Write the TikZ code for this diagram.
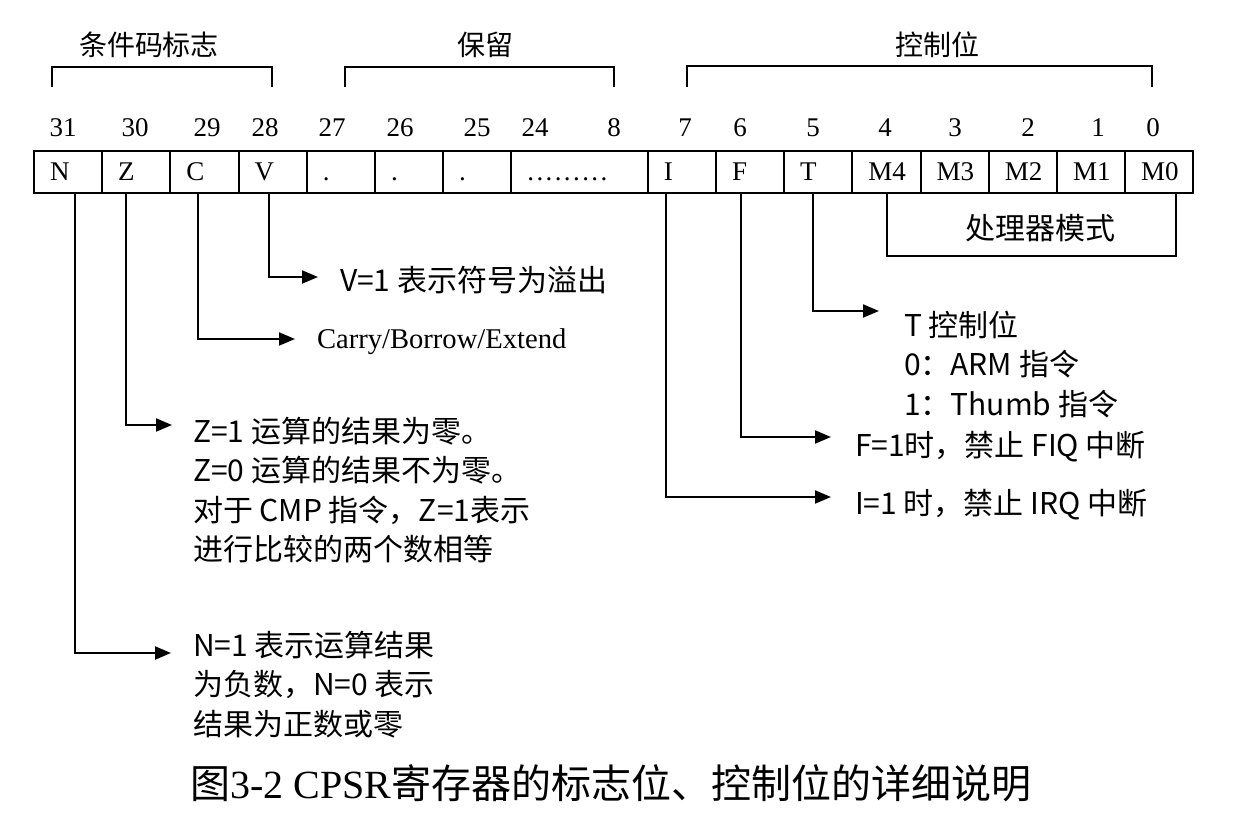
\documentclass[tikz,border=0pt]{standalone}
\usepackage{fontspec}
\setmainfont{Liberation Serif}
\newfontfamily\cjk{Noto Sans CJK SC}
\usetikzlibrary{positioning,arrows.meta}

\begin{document}
\begin{tikzpicture}[x=0.5pt, y=-0.5pt, line width=1pt, >={Triangle[length=8pt,width=6.5pt]},
    bitcell/.style={draw, outer sep=0pt, minimum height=21.15pt, minimum width=34.1pt, text width=18.1pt, text height=9pt, text depth=0pt, inner xsep=8pt, inner ysep=0pt, align=left, font=\fontsize{13.5pt}{16pt}\selectfont},
    widecell/.style={bitcell, minimum width=68.2pt, text width=52.2pt},
    bitnum/.style={inner sep=0pt, font=\fontsize{13.5pt}{16pt}\selectfont},
    group/.style={inner sep=0pt, font=\cjk\fontsize{14pt}{17pt}\selectfont},
    desc/.style={inner sep=0pt, align=left, font=\cjk\fontsize{15pt}{19.75pt}\selectfont},
    latin/.style={inner sep=0pt, font=\fontsize{14.3pt}{17pt}\selectfont},
    caption/.style={inner sep=0pt, font=\cjk\fontsize{20pt}{24pt}\selectfont}]
    \useasboundingbox[fill=white] (0,0) rectangle (1239,818);

    \node[group] (gCond) at (149,45) {条件码标志};
    \node[group] (gRes) at (485,45) {保留};
    \node[group] (gCtrl) at (937,45) {控制位};
    \draw (52,87) -- (52,67) -- (272,67) -- (272,87);
    \draw (345,87) -- (345,67) -- (614,67) -- (614,87);
    \draw (687,87) -- (687,66) -- (1152,66) -- (1152,87);

    \node[bitnum] (n31) at (63,128) {31};
    \node[bitnum] (n30) at (135,128) {30};
    \node[bitnum] (n29) at (207,128) {29};
    \node[bitnum] (n28) at (265,128) {28};
    \node[bitnum] (n27) at (332,128) {27};
    \node[bitnum] (n26) at (400,128) {26};
    \node[bitnum] (n25) at (477,128) {25};
    \node[bitnum] (n24) at (535,128) {24};
    \node[bitnum] (n8) at (614,128) {8};
    \node[bitnum] (n7) at (685,128) {7};
    \node[bitnum] (n6) at (740,128) {6};
    \node[bitnum] (n5) at (813,128) {5};
    \node[bitnum] (n4) at (885,128) {4};
    \node[bitnum] (n3) at (955,128) {3};
    \node[bitnum] (n2) at (1028,128) {2};
    \node[bitnum] (n1) at (1098,128) {1};
    \node[bitnum] (n0) at (1153,128) {0};

    \node[bitcell] (bN) at (68.1,171.85) {N};
    \node[bitcell, right=0pt of bN] (bZ) {Z};
    \node[bitcell, right=0pt of bZ] (bC) {C};
    \node[bitcell, right=0pt of bC] (bV) {V};
    \node[bitcell, right=0pt of bV] (b27) {.};
    \node[bitcell, right=0pt of b27] (b26) {.};
    \node[bitcell, right=0pt of b26] (b25) {.};
    \node[widecell, right=0pt of b25] (b24) {.\kern1.2pt.\kern1.2pt.\kern1.2pt.\kern1.2pt.\kern1.2pt.\kern1.2pt.\kern1.2pt.\kern1.2pt.};
    \node[bitcell, right=0pt of b24] (bI) {I};
    \node[bitcell, right=0pt of bI] (bF) {F};
    \node[bitcell, right=0pt of bF] (bT) {T};
    \node[bitcell, right=0pt of bT] (bM4) {M4};
    \node[bitcell, right=0pt of bM4] (bM3) {M3};
    \node[bitcell, right=0pt of bM3] (bM2) {M2};
    \node[bitcell, right=0pt of bM2] (bM1) {M1};
    \node[bitcell, right=0pt of bM1] (bM0) {M0};

    \coordinate (mEnd) at (1176,256);
    \draw (bM4.south) |- (mEnd) -- (mEnd |- bM0.south);
    \node[group, font=\cjk\fontsize{15pt}{18pt}\selectfont] (mode) at (1040,228) {处理器模式};

    \coordinate (aV) at (318,277);
    \coordinate (aC) at (295,339);
    \coordinate (aZ) at (172,425);
    \coordinate (aN) at (171,653);
    \coordinate (aT) at (879,311);
    \coordinate (aF) at (831,437);
    \coordinate (aI) at (831,497);

    \node[desc, anchor=west] (dV) at (339,280) {V=1 表示符号为溢出};
    \node[latin, anchor=west] (dC) at (316,342) {Carry/Borrow/Extend};
    \node[desc, anchor=north west] (dZ) at (192,416) {Z=1 运算的结果为零。\\Z=0 运算的结果不为零。\\对于 CMP 指令，Z=1表示\\进行比较的两个数相等};
    \node[desc, anchor=north west] (dN) at (192,630) {N=1 表示运算结果\\为负数，N=0 表示\\结果为正数或零};
    \node[desc, anchor=north west] (dT) at (903,310) {T 控制位\\0：ARM 指令\\1：Thumb 指令};
    \node[desc, anchor=west] (dF) at (854,447) {F=1时，禁止 FIQ 中断};
    \node[desc, anchor=west] (dI) at (854,505) {I=1 时，禁止 IRQ 中断};

    \draw[->] ([xshift=-1.75pt]bV.south) |- (aV);
    \draw[->] ([xshift=-3.25pt]bC.south) |- (aC);
    \draw[->] ([xshift=-5.25pt]bZ.south) |- (aZ);
    \draw[->] ([xshift=3.25pt]bN.south) |- (aN);
    \draw[->] ([xshift=-2.5pt]bT.south) |- (aT);
    \draw[->] ([xshift=-4.75pt]bF.south) |- (aF);
    \draw[->] ([xshift=-7.75pt]bI.south) |- (aI);

    \node[caption] (cap) at (611,783) {图{\rmfamily\fontsize{20pt}{24pt}\selectfont 3-2 CPSR}寄存器的标志位、控制位的详细说明};
\end{tikzpicture}
\end{document}
